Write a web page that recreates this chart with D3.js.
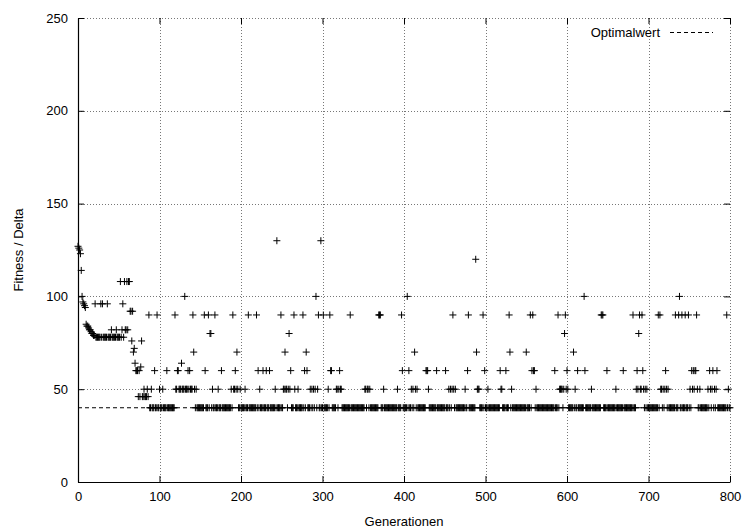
<!DOCTYPE html>
<html>
<head>
<meta charset="utf-8">
<script src="https://cdn.jsdelivr.net/npm/d3@7"></script>
<style>
  html, body { margin: 0; padding: 0; background: #fff; }
  svg { display: block; font-family: "Liberation Sans", Arial, Helvetica, sans-serif; }
</style>
</head>
<body>
<svg id="chart" width="746" height="529"></svg>
<script>
// ---- data ----
const xTicks = [0, 100, 200, 300, 400, 500, 600, 700, 800];
const yTicks = [0, 50, 100, 150, 200, 250];
const optimum = 40;
const legendLabel = "Optimalwert";
const xLabel = "Generationen";
const yLabel = "Fitness / Delta";

// fitness value for each generation 0..800
const fitness = [
  127,126,125,123,114,100,97,96,95,94,
  85,84,84,83,82,82,81,80,80,79,
  79,96,78,78,78,78,78,78,96,78,
  96,78,78,78,78,78,96,78,78,78,
  78,82,78,78,78,78,78,82,78,78,
  78,78,108,78,82,96,78,108,82,82,
  108,82,108,108,92,92,76,92,70,72,
  64,60,60,60,46,60,46,62,76,46,
  46,50,46,46,46,50,46,90,40,40,
  50,40,40,40,60,40,40,90,40,40,
  50,40,40,40,50,40,40,40,40,60,
  40,40,40,40,40,40,40,40,40,90,
  50,50,60,60,50,50,50,64,50,50,
  50,100,50,50,50,60,50,60,50,50,
  50,90,70,50,40,50,40,40,40,40,
  40,40,40,40,40,90,60,40,40,40,
  90,40,80,80,40,50,40,40,90,40,
  40,40,50,40,40,40,60,40,40,40,
  40,40,40,40,40,40,40,40,50,40,
  90,50,50,60,50,70,50,40,40,50,
  40,40,40,40,40,50,40,40,40,90,
  40,40,40,40,40,40,40,40,40,90,
  40,60,40,50,40,40,40,60,40,40,
  40,60,40,40,40,60,40,40,40,40,
  40,40,50,40,130,40,40,40,40,90,
  40,40,50,50,70,50,50,40,50,80,
  50,60,40,40,40,90,50,40,40,40,
  50,40,40,40,40,40,90,40,60,40,
  70,60,40,40,40,50,40,50,40,50,
  40,50,100,40,50,90,40,40,130,40,
  40,90,40,40,40,40,40,50,40,90,
  60,60,40,40,40,40,40,50,50,40,
  50,60,50,50,40,40,40,40,40,40,
  40,40,40,40,90,40,40,40,40,40,
  40,40,40,40,40,40,40,40,40,40,
  40,40,50,50,40,50,50,40,50,40,
  40,40,40,40,40,40,40,40,40,90,
  90,90,40,40,40,50,40,40,40,40,
  40,40,40,40,40,40,40,40,40,40,
  40,40,50,40,40,40,40,90,60,40,
  40,40,40,40,100,40,60,40,40,50,
  40,50,40,70,50,40,50,40,40,40,
  40,40,40,40,40,40,40,60,60,60,
  50,40,40,40,40,40,40,40,40,40,
  60,40,40,40,40,40,40,40,40,40,
  40,60,40,40,40,50,40,50,40,50,
  90,50,40,50,40,40,40,40,40,40,
  40,40,40,40,40,50,40,40,60,90,
  40,40,40,40,40,40,40,40,120,70,
  50,50,50,40,40,40,40,90,40,60,
  40,40,40,50,40,40,40,40,40,40,
  40,40,40,40,40,40,40,40,60,50,
  50,40,40,40,40,60,40,40,40,90,
  70,40,50,40,40,40,40,40,40,40,
  40,40,40,40,40,40,40,40,40,40,
  70,40,40,40,40,90,40,60,90,60,
  60,40,50,40,40,40,40,40,40,40,
  40,40,40,40,40,40,40,40,40,40,
  40,40,40,40,40,60,40,40,40,90,
  40,50,50,50,50,40,50,80,90,50,
  60,50,40,40,40,40,40,40,70,40,
  50,40,40,60,40,40,40,40,40,40,
  40,100,60,40,40,40,40,40,40,40,
  50,40,40,40,40,40,40,40,40,40,
  40,40,90,90,90,40,40,40,40,60,
  40,40,40,40,40,40,40,40,40,40,
  50,40,40,40,40,40,40,40,40,60,
  40,40,40,40,40,40,40,40,40,40,
  40,90,40,40,40,50,60,50,80,90,
  50,50,90,60,50,40,50,40,50,40,
  40,40,40,40,40,40,40,40,40,40,
  40,40,90,40,90,50,50,40,50,40,
  50,60,50,40,50,40,40,40,40,40,
  40,40,40,90,40,40,40,90,100,40,
  40,90,40,40,40,90,40,40,40,90,
  40,50,40,60,50,60,50,60,60,90,
  50,40,40,50,40,40,40,40,40,40,
  40,40,40,50,40,60,50,40,50,60,
  40,50,40,50,60,40,40,40,40,40,
  40,40,40,40,40,40,90,40,50,40,
  40
];

(function () {
  // ---- layout ----
  const pL = 78, pR = 730, pT = 18, pB = 482;
  const svg = d3.select("#chart");
  const x = d3.scaleLinear().domain([0, 800]).range([pL, pR]);
  const y = d3.scaleLinear().domain([0, 250]).range([pB, pT]);
  const fontSize = 13;

  // grid (dotted), includes top (250) and right (800) borders
  const grid = svg.append("g").attr("stroke", "#777").attr("stroke-width", 1)
    .attr("stroke-dasharray", "1,2").attr("fill", "none");
  grid.selectAll("line.gx").data(xTicks.filter(d => d > 0)).enter().append("line")
    .attr("x1", d => Math.round(x(d)) + 0.5).attr("x2", d => Math.round(x(d)) + 0.5)
    .attr("y1", pT).attr("y2", pB);
  grid.selectAll("line.gy").data(yTicks.filter(d => d > 0)).enter().append("line")
    .attr("y1", d => Math.round(y(d)) + 0.5).attr("y2", d => Math.round(y(d)) + 0.5)
    .attr("x1", pL).attr("x2", pR);

  // axes
  const xAxis = svg.append("g").attr("transform", `translate(0,${pB})`)
    .call(d3.axisBottom(x).tickValues(xTicks).tickSize(-6).tickPadding(10).tickSizeOuter(0));
  const yAxis = svg.append("g").attr("transform", `translate(${pL},0)`)
    .call(d3.axisLeft(y).tickValues(yTicks).tickSize(-6).tickPadding(10).tickSizeOuter(0));
  const xTop = svg.append("g").attr("transform", `translate(0,${pT})`)
    .call(d3.axisTop(x).tickValues(xTicks).tickSize(-6).tickFormat("").tickSizeOuter(0));
  const yRight = svg.append("g").attr("transform", `translate(${pR},0)`)
    .call(d3.axisRight(y).tickValues(yTicks).tickSize(-6).tickFormat("").tickSizeOuter(0));
  xTop.select(".domain").remove();
  yRight.select(".domain").remove();
  [xAxis, yAxis, xTop, yRight].forEach(g => {
    g.selectAll("line").attr("stroke", "#000");
    g.selectAll(".domain").attr("stroke", "#000").attr("stroke-width", 1.2);
    g.selectAll("text").attr("font-size", fontSize).attr("fill", "#000")
      .attr("font-family", "'Liberation Sans', Arial, sans-serif");
  });

  // optimum dashed line
  svg.append("line")
    .attr("x1", pL).attr("x2", pR)
    .attr("y1", y(optimum)).attr("y2", y(optimum))
    .attr("stroke", "#000").attr("stroke-width", 1).attr("stroke-dasharray", "4,3");

  // points (plus markers)
  const pts = fitness.map((v, i) => [i, v]);
  svg.append("g").selectAll("path").data(pts).enter().append("path")
    .attr("transform", d => `translate(${x(d[0])},${y(d[1])})`)
    .attr("d", "M-3.5,0H3.5M0,-3.5V3.5")
    .attr("stroke", "#000").attr("stroke-width", 1).attr("fill", "none");

  // legend
  svg.append("text").attr("x", 660).attr("y", 32).attr("dy", "0.35em")
    .attr("text-anchor", "end").attr("font-size", fontSize).text(legendLabel);
  svg.append("line").attr("x1", 670).attr("x2", 713).attr("y1", 32.5).attr("y2", 32.5)
    .attr("stroke", "#000").attr("stroke-dasharray", "4,3");

  // axis titles
  svg.append("text").attr("x", (pL + pR) / 2).attr("y", 521).attr("dy", "0.35em")
    .attr("text-anchor", "middle").attr("font-size", fontSize).text(xLabel);
  svg.append("text").attr("transform", `translate(18,${(pT + pB) / 2}) rotate(-90)`)
    .attr("dy", "0.35em").attr("text-anchor", "middle").attr("font-size", fontSize).text(yLabel);
})();
</script>
</body>
</html>
